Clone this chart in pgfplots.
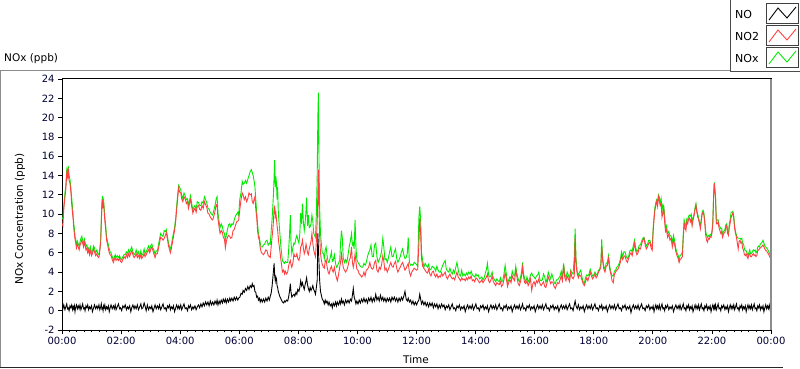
\documentclass[border=0pt]{standalone}
\usepackage{pgfplots}
\pgfplotsset{compat=1.18}
\usepackage{pgfplotstable}
\usepackage{fontspec}
\setmainfont{DejaVu Sans}
\definecolor{nored}{RGB}{255,64,64}
\definecolor{noxgreen}{RGB}{0,235,0}
\definecolor{framegray}{RGB}{140,140,140}

\pgfplotstableread{
t no no2 nox
0.00 0.5 9.0 9.5
0.03 0.2 8.8 9.6
0.06 0.6 10.5 10.8
0.10 0.1 11.8 12.2
0.13 0.4 12.6 13.0
0.16 0.7 14.2 14.6
0.19 0.2 13.8 14.2
0.21 0.3 14.8 15.0
0.24 0.0 13.5 14.0
0.27 0.5 13.2 13.6
0.30 0.3 12.3 12.7
0.33 0.6 11.0 11.6
0.36 0.1 10.0 10.6
0.38 0.4 9.4 9.7
0.40 0.2 8.5 8.9
0.42 0.5 8.0 8.5
0.44 -0.1 7.4 7.7
0.46 0.3 7.1 7.5
0.49 0.6 6.5 6.8
0.52 0.2 6.9 7.2
0.55 0.5 6.6 6.9
0.58 0.2 6.3 6.7
0.61 0.6 6.8 7.1
0.64 0.1 7.0 7.5
0.67 0.4 7.3 7.7
0.70 0.7 7.0 7.3
0.73 0.2 6.6 7.0
0.76 0.3 7.1 7.4
0.78 0.0 6.8 7.1
0.81 0.5 6.3 6.7
0.84 0.3 6.5 6.8
0.87 0.6 6.0 6.4
0.90 0.1 6.3 6.5
0.93 0.4 5.8 6.1
0.96 0.2 6.2 6.6
1.00 0.5 5.7 6.0
1.03 -0.1 5.9 6.2
1.07 0.3 6.4 6.7
1.10 0.6 6.1 6.5
1.14 0.2 5.7 6.0
1.18 0.5 5.9 6.3
1.21 0.2 5.6 5.9
1.25 0.6 5.5 5.8
1.28 0.1 6.2 6.4
1.31 0.4 7.1 7.4
1.33 0.7 9.0 9.3
1.35 0.2 10.8 11.2
1.37 0.3 11.5 11.9
1.39 0.0 10.8 11.1
1.41 0.5 11.0 11.4
1.43 0.3 10.2 10.6
1.45 0.6 9.3 9.7
1.48 0.1 8.4 8.8
1.51 0.4 7.3 7.6
1.54 0.2 6.9 7.2
1.57 0.5 6.4 6.8
1.60 -0.1 6.0 6.4
1.63 0.3 5.8 6.1
1.66 0.6 5.7 6.0
1.70 0.2 5.3 5.6
1.74 0.5 5.0 5.3
1.77 0.2 5.3 5.5
1.80 0.6 5.5 5.8
1.83 0.1 5.2 5.5
1.87 0.4 5.4 5.7
1.91 0.7 5.2 5.5
1.95 0.2 5.5 5.7
1.98 0.3 5.1 5.4
2.02 0.0 5.0 5.3
2.06 0.5 5.3 5.6
2.10 0.3 5.6 5.8
2.14 0.6 5.4 5.8
2.18 0.1 5.8 6.1
2.22 0.4 5.5 5.9
2.25 0.2 5.9 6.3
2.29 0.5 5.6 6.0
2.33 -0.1 6.0 6.4
2.36 0.3 6.2 6.6
2.40 0.6 5.8 6.1
2.44 0.2 5.5 5.8
2.47 0.5 5.6 5.9
2.51 0.2 5.9 6.3
2.55 0.6 5.5 5.8
2.59 0.1 5.7 6.1
2.63 0.4 5.4 5.6
2.67 0.7 5.8 6.2
2.70 0.2 5.4 5.7
2.74 0.3 5.6 5.9
2.78 0.8 5.9 6.4
2.81 0.5 5.6 5.9
2.85 0.0 5.8 6.1
2.89 0.6 6.1 6.4
2.93 0.1 6.3 6.7
2.97 0.4 6.0 6.3
3.01 0.2 6.4 6.8
3.04 0.5 6.6 6.9
3.08 -0.1 6.2 6.5
3.12 0.3 5.8 6.2
3.15 0.6 5.5 5.8
3.19 0.2 5.9 6.2
3.23 0.5 5.9 6.2
3.27 0.2 6.5 6.9
3.30 0.6 7.0 7.4
3.34 0.1 7.6 8.0
3.38 0.4 7.5 7.8
3.42 0.7 7.3 7.7
3.46 0.2 7.5 8.3
3.50 0.3 7.8 8.2
3.53 0.0 8.1 8.4
3.57 0.5 7.4 7.7
3.60 0.3 6.8 7.1
3.64 0.6 6.3 6.6
3.67 0.1 6.0 6.4
3.70 0.4 6.4 6.8
3.74 0.2 7.1 7.5
3.77 0.5 7.6 8.0
3.81 -0.1 8.3 8.6
3.85 0.3 9.3 9.6
3.88 0.6 10.4 10.8
3.92 0.2 11.8 12.2
3.95 0.5 12.7 13.0
3.98 0.2 12.3 12.8
4.02 0.6 12.2 12.5
4.05 0.1 11.6 12.0
4.09 0.4 11.3 11.6
4.13 0.7 11.8 12.2
4.17 0.2 11.6 11.9
4.21 0.3 11.1 11.5
4.25 0.0 11.3 11.6
4.28 0.5 10.6 11.0
4.31 0.3 11.0 11.3
4.35 0.6 11.5 11.9
4.39 0.1 10.8 11.1
4.43 0.4 10.1 10.4
4.46 0.2 10.4 10.7
4.50 0.5 10.6 10.9
4.54 0.1 10.2 10.5
4.58 0.4 10.8 11.3
4.62 0.6 10.9 11.2
4.66 0.3 10.5 10.9
4.70 0.7 10.4 10.9
4.74 0.4 10.9 11.3
4.78 0.8 10.6 11.1
4.82 0.5 11.3 11.8
4.86 0.9 11.0 11.5
4.90 0.6 10.7 11.2
4.94 0.9 10.1 10.6
4.98 0.5 10.0 10.5
5.02 1.0 9.7 10.2
5.06 0.6 9.5 10.0
5.10 0.9 9.4 9.9
5.14 0.6 9.8 10.4
5.18 1.0 10.3 10.9
5.22 0.7 11.0 11.6
5.25 1.1 10.9 11.8
5.28 0.6 9.5 10.1
5.32 1.0 8.6 9.2
5.35 0.7 8.0 8.6
5.39 1.1 8.3 9.0
5.43 0.8 8.1 8.7
5.46 1.2 7.6 8.2
5.50 0.9 7.4 8.0
5.53 1.2 6.5 7.2
5.56 0.8 7.1 7.8
5.60 1.2 7.6 8.4
5.64 0.9 7.8 8.9
5.68 1.3 7.7 9.0
5.71 1.0 7.5 8.7
5.75 1.3 7.6 9.0
5.79 1.0 8.3 8.9
5.83 1.4 8.4 9.4
5.87 1.1 8.8 9.8
5.91 1.4 9.2 10.0
5.95 1.1 9.3 10.2
5.98 1.3 9.4 9.9
6.02 1.4 10.5 11.6
6.06 1.8 11.5 12.2
6.10 1.7 12.2 13.4
6.13 2.1 12.0 13.1
6.17 1.9 11.5 13.2
6.21 2.3 11.8 13.5
6.25 2.1 11.3 13.2
6.29 2.5 11.6 13.6
6.33 2.2 12.2 14.0
6.37 2.6 12.0 14.4
6.41 2.4 12.1 14.6
6.44 2.8 11.3 14.3
6.47 2.5 11.1 14.0
6.50 2.6 11.5 13.5
6.53 2.0 11.8 12.9
6.56 1.9 10.5 11.5
6.59 1.4 9.7 10.2
6.62 1.5 8.3 9.0
6.65 1.1 7.6 8.0
6.68 1.3 7.3 7.6
6.71 0.9 6.5 7.0
6.74 1.2 6.1 6.6
6.78 0.9 5.9 6.6
6.82 1.2 5.8 6.8
6.86 0.9 6.0 6.9
6.90 1.3 6.3 7.2
6.94 1.0 6.2 7.3
6.98 1.4 5.7 6.8
7.02 1.1 5.6 7.0
7.05 1.5 5.5 6.9
7.08 1.8 6.6 8.2
7.11 2.5 7.6 9.4
7.14 3.5 8.5 11.0
7.16 4.2 9.4 12.2
7.18 4.9 10.7 14.0
7.20 3.6 10.8 15.6
7.22 3.1 9.8 12.8
7.24 3.5 10.1 13.9
7.26 3.3 9.5 13.2
7.28 2.6 8.8 11.5
7.30 2.4 8.3 12.8
7.32 2.0 7.6 10.4
7.34 1.8 7.0 9.4
7.37 1.5 6.3 8.2
7.40 1.3 5.5 7.0
7.43 1.1 4.8 6.0
7.46 0.9 4.0 5.2
7.50 0.8 4.2 5.0
7.53 1.0 3.8 4.9
7.56 0.9 4.1 5.1
7.60 1.1 3.8 5.0
7.64 1.0 4.0 5.0
7.67 1.4 4.6 6.2
7.70 2.0 5.0 7.8
7.73 2.8 5.2 9.9
7.75 2.0 4.8 7.2
7.78 1.4 4.5 5.9
7.82 1.6 5.0 6.6
7.85 1.7 5.9 7.0
7.88 1.5 5.6 6.9
7.92 1.9 5.6 7.5
7.95 1.7 5.9 7.8
7.98 2.2 5.4 7.4
8.02 2.0 5.2 7.0
8.05 2.4 5.6 8.0
8.08 3.1 6.6 10.1
8.11 2.6 6.8 9.0
8.14 2.9 7.3 11.1
8.17 2.5 6.5 9.2
8.20 2.2 5.9 8.3
8.23 2.7 6.2 9.1
8.26 3.1 6.9 10.4
8.28 3.4 6.6 11.7
8.31 2.7 6.0 8.8
8.34 2.3 5.8 9.9
8.37 2.0 6.4 8.6
8.40 2.4 6.8 8.7
8.43 2.1 7.2 9.0
8.46 2.3 8.0 9.9
8.49 2.6 7.0 9.3
8.52 2.2 6.3 8.0
8.55 2.0 5.9 7.8
8.58 1.7 5.6 7.6
8.61 2.4 7.2 10.0
8.64 3.2 9.4 14.2
8.66 8.0 12.0 20.0
8.68 6.4 14.6 22.6
8.70 4.9 10.5 15.5
8.72 3.2 7.8 10.8
8.75 2.0 6.0 8.0
8.78 1.6 5.2 6.9
8.81 1.2 4.8 6.0
8.85 1.0 4.5 5.9
8.88 0.7 4.4 5.4
8.91 1.1 5.1 6.3
8.94 0.8 5.3 6.6
8.97 1.0 4.6 5.8
9.01 0.6 4.0 5.0
9.04 0.9 3.8 5.0
9.08 0.5 4.3 5.5
9.12 0.7 4.6 6.1
9.15 0.3 4.2 5.1
9.18 0.8 4.0 5.2
9.22 0.5 4.5 5.8
9.26 0.9 3.8 4.9
9.29 0.5 3.4 4.5
9.32 0.9 3.1 4.6
9.36 0.6 3.7 4.9
9.40 1.0 4.5 5.2
9.43 0.7 5.0 7.0
9.46 1.2 5.9 8.3
9.49 0.8 5.2 7.5
9.52 1.0 4.5 5.5
9.56 0.6 4.2 5.0
9.60 1.1 4.0 5.3
9.64 0.8 4.2 5.0
9.68 1.1 4.6 5.7
9.72 0.8 5.2 6.6
9.76 1.2 5.5 7.2
9.80 1.0 6.6 8.0
9.83 1.6 5.0 6.8
9.86 2.3 4.5 7.0
9.89 1.4 5.0 6.4
9.92 1.1 5.9 9.4
9.95 0.7 5.1 6.6
9.98 1.0 4.3 5.3
10.02 0.7 4.2 5.0
10.06 1.1 3.8 4.8
10.10 0.8 3.7 4.6
10.14 1.2 3.5 4.5
10.18 0.9 3.6 4.5
10.22 1.3 4.0 4.9
10.26 0.9 3.6 4.7
10.30 1.2 4.2 5.0
10.34 0.8 4.3 5.6
10.38 1.3 4.5 6.0
10.42 1.0 5.0 6.3
10.46 1.4 4.5 6.8
10.50 0.9 4.3 5.6
10.54 1.3 4.4 5.6
10.58 1.0 5.0 6.8
10.62 1.7 5.2 7.0
10.66 1.1 4.2 5.6
10.70 1.4 4.0 5.0
10.74 1.0 4.5 5.3
10.78 1.6 4.3 5.6
10.82 1.1 4.8 6.2
10.86 1.4 5.7 7.5
10.89 1.0 5.2 6.7
10.93 1.3 4.2 5.3
10.97 0.9 4.4 5.4
11.01 1.3 4.0 5.0
11.05 1.0 4.3 5.5
11.09 1.3 4.7 6.1
11.13 0.9 5.0 6.6
11.17 1.4 4.6 5.6
11.21 1.1 4.5 5.6
11.25 1.4 4.9 6.1
11.29 1.0 5.1 6.4
11.33 1.3 4.4 5.4
11.37 0.9 4.0 5.0
11.41 1.3 4.3 5.3
11.45 1.0 4.5 5.6
11.49 1.4 4.8 6.1
11.53 1.1 5.0 6.4
11.57 1.5 4.6 5.8
11.61 2.0 4.2 5.4
11.65 1.2 4.4 5.5
11.69 1.0 4.7 6.0
11.72 1.3 4.9 7.6
11.76 0.9 4.0 5.0
11.80 1.1 3.6 4.7
11.84 0.7 4.0 4.8
11.88 1.0 4.2 4.7
11.92 0.6 4.4 5.0
11.96 0.9 4.3 4.9
12.00 0.6 4.2 4.8
12.04 0.9 4.3 4.6
12.08 1.1 6.8 9.6
12.11 1.7 9.6 10.8
12.14 1.2 8.0 9.4
12.17 0.7 5.4 6.0
12.21 1.0 4.6 5.2
12.25 0.6 4.4 4.5
12.29 0.9 4.2 4.9
12.33 0.5 4.0 4.7
12.37 0.8 3.9 4.5
12.41 0.4 4.3 4.8
12.45 0.8 3.8 4.2
12.49 0.5 3.6 4.3
12.53 0.8 4.0 4.6
12.57 0.3 4.1 4.5
12.61 0.7 3.7 4.4
12.65 0.4 3.5 4.1
12.69 0.7 3.8 4.6
12.73 0.2 3.4 4.2
12.77 0.6 3.6 4.0
12.81 0.3 3.5 4.0
12.85 0.7 3.9 4.4
12.89 0.4 3.6 4.7
12.93 0.6 3.8 5.0
12.97 0.1 4.0 5.2
13.01 0.5 3.5 4.3
13.05 0.3 3.3 4.1
13.09 0.6 3.6 4.0
13.13 0.1 3.8 4.4
13.17 0.4 3.5 4.0
13.21 0.7 3.3 3.8
13.25 0.2 3.4 4.2
13.29 0.3 3.2 3.9
13.33 0.0 3.6 4.5
13.37 0.5 4.0 5.0
13.41 0.3 3.5 4.3
13.45 0.6 3.3 3.7
13.49 0.1 3.1 3.6
13.53 0.4 3.4 4.2
13.57 0.2 3.2 3.6
13.61 0.5 3.3 3.8
13.65 -0.1 3.1 3.6
13.69 0.3 3.4 3.9
13.73 0.6 3.2 3.7
13.77 0.2 3.5 4.0
13.81 0.5 3.3 3.8
13.85 0.2 3.6 4.1
13.89 0.6 3.1 3.7
13.93 0.1 3.2 3.6
13.97 0.4 3.0 3.5
14.01 0.7 3.4 3.8
14.05 0.2 3.3 3.6
14.09 0.3 3.1 3.7
14.13 0.0 2.9 3.3
14.17 0.5 3.0 3.4
14.21 0.3 3.2 3.5
14.25 0.6 2.9 3.2
14.29 0.1 3.1 3.4
14.33 0.4 3.3 3.9
14.37 0.2 3.5 4.3
14.40 0.5 3.8 4.9
14.44 -0.1 3.1 3.7
14.48 0.3 2.9 3.5
14.52 0.6 3.2 3.6
14.56 0.2 3.6 4.0
14.60 0.5 3.0 3.4
14.64 0.2 2.8 3.2
14.68 0.6 2.6 3.0
14.72 0.1 2.9 3.3
14.76 0.4 2.8 3.1
14.80 0.7 2.7 3.0
14.84 0.2 3.0 3.4
14.88 0.3 2.5 3.0
14.92 0.0 2.7 3.1
14.96 0.5 3.2 3.8
15.00 0.3 3.9 4.7
15.04 0.6 3.4 3.8
15.08 0.1 2.5 2.9
15.12 0.4 2.9 3.2
15.16 0.2 3.2 3.5
15.20 0.5 2.9 3.3
15.24 -0.1 3.6 4.1
15.28 0.3 3.3 3.7
15.32 0.6 3.1 3.6
15.36 0.2 4.2 4.6
15.40 0.5 3.5 3.8
15.44 0.2 2.8 3.3
15.48 0.6 2.6 3.0
15.52 0.1 3.0 3.4
15.56 0.4 3.7 4.1
15.59 0.7 4.5 5.0
15.62 0.2 3.6 3.9
15.66 0.3 2.9 3.3
15.70 0.0 2.8 3.0
15.74 0.5 3.1 3.5
15.78 0.3 2.6 3.0
15.82 0.6 2.9 3.2
15.86 0.1 3.3 3.7
15.90 0.4 2.1 3.9
15.94 0.2 2.8 3.6
15.98 0.5 3.0 3.5
16.02 -0.1 2.6 3.3
16.06 0.3 3.1 3.6
16.10 0.6 2.9 3.7
16.14 0.2 3.3 4.0
16.18 0.5 2.8 3.2
16.22 0.2 2.6 3.1
16.26 0.6 2.8 3.2
16.30 0.1 3.0 3.8
16.34 0.4 2.5 3.5
16.38 0.7 2.4 2.9
16.42 0.2 2.9 3.3
16.46 0.3 3.5 4.0
16.50 0.0 3.2 3.6
16.54 0.5 2.8 3.3
16.58 0.3 3.0 3.8
16.62 0.6 2.9 3.4
16.66 0.1 2.5 2.9
16.70 0.4 2.3 2.8
16.74 0.2 2.7 3.2
16.78 0.5 2.9 3.2
16.82 -0.1 2.8 3.4
16.86 0.3 3.2 3.6
16.90 0.6 3.6 4.1
16.94 0.2 3.1 3.5
16.98 0.5 4.7 4.9
17.02 0.2 3.4 3.8
17.06 0.6 3.1 3.4
17.10 0.1 3.6 4.0
17.14 0.4 3.3 3.7
17.18 0.7 3.0 3.3
17.22 0.2 4.0 4.2
17.26 0.3 3.5 3.9
17.30 0.0 3.3 3.8
17.34 0.6 3.6 5.6
17.37 1.0 7.5 8.5
17.40 0.5 4.8 5.4
17.44 0.2 3.8 4.0
17.48 0.6 3.4 3.7
17.52 0.1 3.7 4.0
17.56 0.4 3.6 4.2
17.60 0.2 3.2 3.5
17.64 0.5 2.8 3.0
17.68 -0.1 2.6 2.8
17.72 0.3 3.0 3.4
17.76 0.6 3.4 3.7
17.80 0.2 3.1 3.6
17.84 0.5 3.5 3.8
17.88 0.2 4.0 4.3
17.92 0.6 3.6 3.9
17.96 0.1 3.3 3.6
18.00 0.4 3.5 3.7
18.04 0.7 3.8 4.0
18.08 0.2 3.4 3.7
18.12 0.3 3.6 3.8
18.16 0.0 4.0 4.2
18.20 0.5 4.2 4.3
18.24 0.3 4.5 4.9
18.27 0.6 6.6 7.4
18.30 0.1 5.2 5.5
18.34 0.4 4.3 4.6
18.38 0.2 4.0 4.3
18.42 0.5 4.6 4.9
18.46 -0.1 4.7 5.0
18.50 0.3 5.4 5.7
18.54 0.6 4.3 4.6
18.58 0.2 3.8 4.0
18.62 0.5 3.1 3.6
18.66 0.2 2.9 3.6
18.70 0.6 3.8 4.1
18.74 0.1 4.0 4.2
18.78 0.4 4.2 4.5
18.82 0.7 4.3 4.6
18.86 0.2 4.6 4.9
18.90 0.3 5.0 5.3
18.94 0.0 5.7 6.1
18.98 0.5 5.3 5.6
19.02 0.3 5.6 6.1
19.06 0.6 5.7 6.1
19.10 0.1 5.2 5.6
19.14 0.4 5.0 5.4
19.18 0.2 5.4 5.6
19.22 0.5 5.8 6.2
19.26 -0.2 6.0 6.3
19.30 0.3 5.7 6.1
19.34 0.6 6.3 6.8
19.38 0.2 7.0 7.3
19.42 0.5 6.2 6.5
19.46 0.2 5.8 6.1
19.50 0.6 6.0 6.3
19.54 0.1 6.5 6.8
19.58 0.4 6.4 6.8
19.62 0.7 6.9 7.2
19.66 0.2 7.3 7.5
19.70 0.3 7.5 7.6
19.74 0.0 6.8 7.1
19.78 0.5 6.4 6.7
19.82 0.3 6.6 6.9
19.86 0.6 7.0 7.3
19.90 0.1 7.1 7.3
19.94 0.4 6.5 6.8
19.98 0.2 6.25 6.6
20.01 0.5 8.2 8.5
20.04 -0.1 9.4 9.7
20.07 0.3 10.4 10.7
20.10 0.6 10.9 11.2
20.13 0.2 11.3 11.5
20.16 0.5 10.8 11.3
20.19 0.2 11.8 12.0
20.22 0.6 11.4 11.8
20.25 0.1 10.9 11.1
20.28 0.4 11.1 11.6
20.31 0.7 9.7 10.3
20.34 0.2 10.1 11.0
20.37 0.3 10.6 10.8
20.40 0.0 9.2 9.9
20.43 0.5 8.2 8.5
20.46 0.3 8.4 8.8
20.50 0.6 7.6 8.0
20.54 0.1 7.9 8.2
20.58 0.4 7.3 7.8
20.62 0.2 7.5 7.7
20.66 0.5 6.6 7.1
20.70 -0.1 7.3 7.8
20.74 0.3 6.8 7.2
20.78 0.6 6.1 6.4
20.82 0.2 5.7 6.0
20.86 0.5 5.4 5.7
20.89 0.2 5.0 5.2
20.92 0.6 5.3 5.7
20.96 0.1 5.4 5.8
21.00 0.4 5.6 6.1
21.03 0.7 7.5 7.9
21.06 0.2 9.0 9.4
21.09 0.3 8.6 9.0
21.12 0.0 8.3 8.8
21.15 0.5 9.2 9.5
21.18 0.3 9.0 9.4
21.21 0.6 9.5 9.8
21.24 0.1 9.6 9.9
21.27 0.4 9.2 9.8
21.30 0.2 9.5 10.0
21.33 0.5 8.8 9.0
21.36 -0.1 9.4 9.6
21.40 0.3 9.9 10.1
21.43 0.6 10.5 10.7
21.46 0.2 10.9 11.1
21.49 0.5 10.2 10.4
21.52 0.2 9.7 10.0
21.55 0.6 9.4 9.6
21.58 0.1 9.0 9.2
21.61 0.4 8.5 8.7
21.64 0.7 9.3 9.5
21.67 0.2 10.0 10.2
21.70 0.3 10.2 10.4
21.73 0.0 9.9 10.1
21.76 0.5 9.0 9.2
21.79 0.3 7.8 8.2
21.82 0.6 7.3 7.8
21.85 0.1 7.1 7.6
21.88 0.4 7.5 7.8
21.91 0.2 7.4 7.7
21.94 0.5 7.7 7.9
21.97 -0.1 7.6 7.8
22.00 0.3 8.0 8.2
22.03 0.6 9.0 9.2
22.06 0.2 12.0 12.2
22.08 0.5 13.2 13.3
22.10 0.2 12.4 12.6
22.12 0.6 11.8 12.0
22.15 0.1 9.0 9.3
22.18 0.4 9.0 9.4
22.21 0.7 9.2 9.4
22.24 0.2 8.6 8.9
22.27 0.3 8.3 8.7
22.30 0.0 8.0 8.5
22.33 0.5 8.2 8.5
22.36 0.3 7.6 8.0
22.40 0.6 8.0 8.2
22.44 0.1 8.1 8.4
22.47 0.4 8.6 8.9
22.50 0.2 8.8 9.0
22.53 0.5 8.0 8.3
22.56 -0.1 7.8 8.1
22.59 0.3 8.7 9.0
22.62 0.6 9.1 9.5
22.65 0.2 9.7 10.2
22.68 0.5 9.9 10.2
22.71 0.2 10.1 10.3
22.74 0.6 9.5 9.8
22.77 0.1 8.5 8.7
22.80 0.4 8.0 8.2
22.83 0.7 7.6 7.8
22.86 0.2 7.0 7.6
22.89 0.3 6.4 7.5
22.92 0.0 7.2 7.5
22.95 0.5 7.3 7.5
22.98 0.3 7.0 7.4
23.01 0.6 7.1 7.5
23.04 0.1 6.5 7.0
23.07 0.4 6.25 6.9
23.10 0.2 5.8 6.4
23.13 0.5 5.7 6.2
23.16 -0.1 5.9 6.2
23.19 0.3 5.6 6.0
23.22 0.6 5.4 5.7
23.25 0.2 5.8 6.0
23.28 0.5 5.9 6.3
23.31 0.2 5.6 5.9
23.34 0.6 5.6 5.9
23.37 0.1 5.8 6.1
23.40 0.4 5.9 6.3
23.43 0.7 5.7 6.2
23.46 0.2 5.8 6.3
23.49 0.3 5.6 6.0
23.52 0.0 5.7 6.1
23.55 0.5 6.2 6.6
23.58 0.3 6.3 6.7
23.61 0.6 6.4 6.6
23.64 0.1 6.5 6.9
23.67 0.4 6.6 7.0
23.70 0.2 6.7 7.1
23.73 0.5 6.8 7.3
23.76 -0.1 6.6 7.0
23.79 0.3 6.4 6.7
23.82 0.6 6.25 6.6
23.85 0.2 6.2 6.5
23.88 0.5 6.0 6.4
23.91 0.2 5.9 6.2
23.94 0.6 5.7 6.0
23.97 0.1 5.5 5.8
24.00 0.4 5.4 5.6
}\datatable

\begin{document}
\begin{tikzpicture}
\path[use as bounding box] (0,0) rectangle (800bp,369bp);
% outer frame
\draw[framegray, line width=1bp] (0.5bp,1.5bp) -- (0.5bp,298.5bp) -- (730bp,298.5bp);
\draw[black!85, line width=1bp] (0bp,1.5bp) -- (783bp,1.5bp);
\begin{axis}[
  name=ax,
  at={(62bp,39bp)}, anchor=south west,
  scale only axis, width=709bp, height=251bp,
  xmin=0, xmax=24, ymin=-2, ymax=24,
  xtick={0,2,...,24},
  xticklabels={00:00,02:00,04:00,06:00,08:00,10:00,12:00,14:00,16:00,18:00,20:00,22:00,00:00},
  minor x tick num=7,
  ytick={-2,0,2,...,24},
  tick align=outside,
  xtick pos=left, ytick pos=left,
  major tick length=4bp, minor tick length=2.5bp,
  every tick/.style={black, line width=0.8bp},
  axis line style={black, line width=1bp},
  tick label style={font=\fontsize{10bp}{12bp}\selectfont, text=black!80!blue},
  /pgf/number format/assume math mode=true,
]
\addplot[noxgreen, line width=0.9bp] table[x=t,y=nox]{\datatable};
\addplot[nored, line width=0.9bp] table[x=t,y=no2]{\datatable};
\addplot[black, line width=0.9bp] table[x=t,y=no]{\datatable};
\end{axis}
\draw[framegray, line width=1.2bp] (ax.south east) -- (ax.north east);
% titles
\node[anchor=base west, font=\fontsize{10.5bp}{12bp}\selectfont, inner sep=0pt] at (4bp,307bp) {NOx (ppb)};
\node[anchor=base, font=\fontsize{10.5bp}{12bp}\selectfont, inner sep=0pt] at (416bp,6bp) {Time};
\node[rotate=90, font=\fontsize{10.5bp}{12bp}\selectfont, inner sep=0pt] at (20bp,150bp) {NOx Concentration (ppb)};
% legend
\draw[black!70, line width=1bp] (730.5bp,369bp) -- (730.5bp,297.5bp) -- (800bp,297.5bp);
\foreach \lab/\col/\yc in {NO/black/355, NO2/nored/333, NOx/noxgreen/311}{
  \node[anchor=west, font=\fontsize{11bp}{13bp}\selectfont, inner sep=0pt] at (735bp,\yc bp) {\lab};
  \draw[black!75, line width=1bp] (766.5bp,\yc bp-10bp) rectangle (798bp,\yc bp+10bp);
  \draw[\col, line width=0.9bp] (769bp,\yc bp-6bp) -- (778bp,\yc bp+6bp) -- (787bp,\yc bp-4bp) -- (796bp,\yc bp+7bp);
}
\end{tikzpicture}
\end{document}
